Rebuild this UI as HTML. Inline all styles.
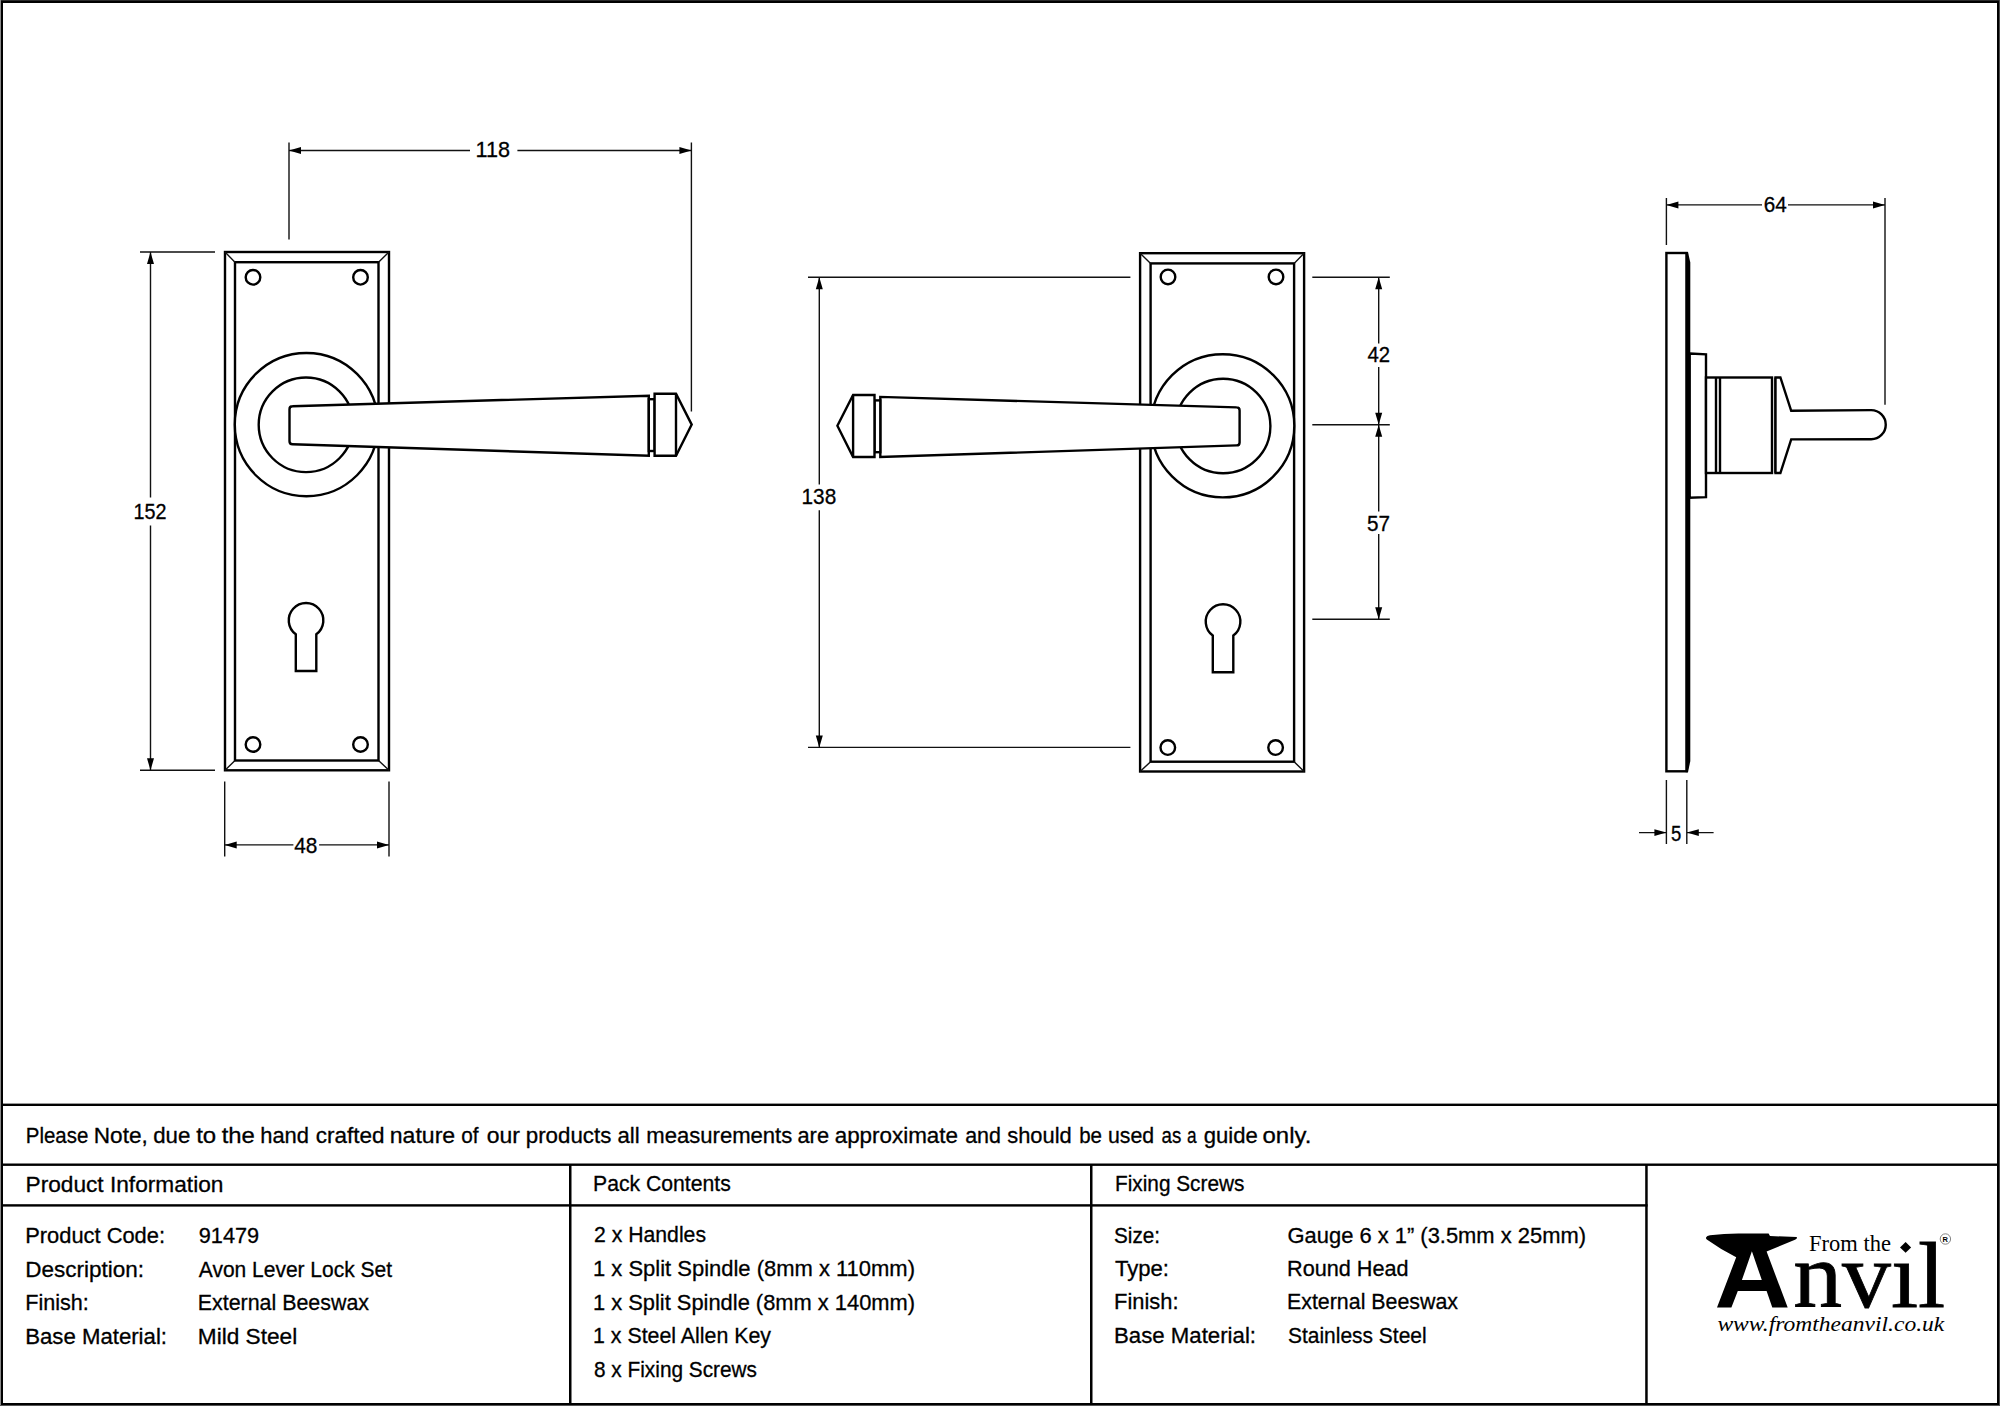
<!DOCTYPE html>
<html><head><meta charset="utf-8">
<style>
html,body{margin:0;padding:0;background:#fff;width:2000px;height:1406px;overflow:hidden}
svg{display:block}

text{font-family:"Liberation Sans",sans-serif;fill:#000}
.o{fill:#fff;stroke:#000;stroke-width:2.4;stroke-linejoin:miter}
.on{fill:none;stroke:#000;stroke-width:2.4}
.d{fill:none;stroke:#111;stroke-width:1.4}
.a{fill:#000;stroke:none}
.t{font-size:22px;stroke:#000;stroke-width:0.3px}
.n{font-size:23px;stroke:#000;stroke-width:0.3px}
</style></head>
<body>
<svg width="2000" height="1406" viewBox="0 0 2000 1406">
<defs>
<g id="plate">
  <rect class="o" x="225" y="252" width="164" height="518.3"/>
  <rect class="on" x="235" y="262.2" width="143.5" height="498.3"/>
  <path class="d" d="M225,252L235,262.2M389,252L378.5,262.2M225,770.3L235,760.5M389,770.3L378.5,760.5"/>
  <path class="on" d="M295.8,671V634.3A17.3,17.3 0 1 1 316.3,634.3V671Z"/>
  <circle class="o" cx="306.4" cy="424.6" r="71.6"/>
  <circle class="on" cx="306" cy="424.8" r="47.3"/>
  <path class="o" d="M292.5,406.2L648.8,395.7V455.8L292.5,444.2Q289.5,444.2 289.5,441.2V409.2Q289.5,406.2 292.5,406.2Z"/>
  <rect class="o" x="648.8" y="399.2" width="5.8" height="51.8"/>
  <path class="o" d="M654.6,393.8H676L691.7,424.6L676,455.8H654.6Z"/>
  <path class="on" d="M676,393.8V455.8"/>
</g>
</defs>

<!-- frame -->
<rect x="0" y="0" width="2000" height="1406" fill="#000"/>
<rect x="0" y="0" width="2000" height="1" fill="#2a2a2a"/>
<rect x="0" y="0" width="1" height="1406" fill="#8a8a8a"/>
<rect x="1999" y="0" width="1" height="1406" fill="#4a4a4a"/>
<rect x="0" y="1405" width="2000" height="1" fill="#555"/>
<rect x="3" y="3" width="1994" height="1400" fill="#fff"/>

<!-- left view -->
<use href="#plate"/>
<!-- middle view (mirrored) -->
<use href="#plate" transform="translate(1529.1,1.2) scale(-1,1)"/>
<g>
  <circle class="on" cx="253" cy="277.3" r="7.3"/>
  <circle class="on" cx="360.5" cy="277.3" r="7.3"/>
  <circle class="on" cx="253" cy="744.5" r="7.3"/>
  <circle class="on" cx="360.5" cy="744.5" r="7.3"/>
  <circle class="on" cx="1168" cy="276.9" r="7.3"/>
  <circle class="on" cx="1276" cy="276.9" r="7.3"/>
  <circle class="on" cx="1167.8" cy="747.6" r="7.3"/>
  <circle class="on" cx="1275.6" cy="747.6" r="7.3"/>
</g>

<!-- right side view -->
<g>
  <rect class="on" x="1666.4" y="253" width="20.2" height="518.3"/>
  <path class="a" d="M1685.6,252L1688,252L1690.3,262.5V761L1688,772.3H1685.6Z"/>
  <path class="o" d="M1689.7,353.5L1706,354.3V497.2L1689.7,497.8Z"/>
  <rect class="o" x="1706" y="377.5" width="66" height="95.5"/>
  <path class="on" d="M1716,377.5V473M1720,377.5V473M1775.5,377.5V473"/>
  <path class="o" d="M1775.5,377.5H1780.4L1791.2,410.8L1871.2,410.1A14.55,14.55 0 0 1 1871.2,439.2L1791.2,439.4L1780.4,473H1775.5Z"/>
</g>

<!-- dimensions -->
<g>
  <!-- 118 -->
  <path class="d" d="M289,142.6V239.5M691.4,142.6V411.4M289,150.5H470M517.4,150.5H691.4"/>
  <path class="a" d="M289,150.5l12,-3.5v7zM691.4,150.5l-12,-3.5v7z"/>
  <text class="n" x="475.5" y="157.0" style="font-size:22.30px" textLength="34.5" lengthAdjust="spacingAndGlyphs">118</text>
  <!-- 152 -->
  <path class="d" d="M140,252H215M140,770.3H215M150.5,252V497.5M150.5,525.6V770.3"/>
  <path class="a" d="M150.5,252l-3.5,12h7zM150.5,770.3l-3.5,-12h7z"/>
  <text class="n" x="133.5" y="519.0" style="font-size:22.30px" textLength="33.0" lengthAdjust="spacingAndGlyphs">152</text>
  <!-- 48 -->
  <path class="d" d="M224.7,781.6V856.6M389,781.6V856.6M224.7,844.9H293.4M319.1,844.9H389"/>
  <path class="a" d="M224.7,844.9l12,-3.5v7zM389,844.9l-12,-3.5v7z"/>
  <text class="n" x="294.2" y="853.1" style="font-size:22.30px" textLength="23.2" lengthAdjust="spacingAndGlyphs">48</text>
  <!-- 138 -->
  <path class="d" d="M808,277.2H1130.4M808,747.4H1130.4M819.3,277.2V484.6M819.3,510.2V747.4"/>
  <path class="a" d="M819.3,277.2l-3.5,12h7zM819.3,747.4l-3.5,-12h7z"/>
  <text class="n" x="801.5" y="503.9" style="font-size:22.30px" textLength="34.7" lengthAdjust="spacingAndGlyphs">138</text>
  <!-- 42 / 57 -->
  <path class="d" d="M1312.3,277.2H1389.8M1312.3,424.8H1389.8M1312.3,619.3H1389.8M1378.7,277.2V343.5M1378.7,367.1V424.8M1378.7,424.8V511.4M1378.7,534.1V619.3"/>
  <path class="a" d="M1378.7,277.2l-3.5,12h7zM1378.7,424.8l-3.5,-12h7zM1378.7,424.8l-3.5,12h7zM1378.7,619.3l-3.5,-12h7z"/>
  <text class="n" x="1367.4" y="362.3" style="font-size:22.30px" textLength="22.6" lengthAdjust="spacingAndGlyphs">42</text>
  <text class="n" x="1367.0" y="530.6" style="font-size:22.30px" textLength="23.0" lengthAdjust="spacingAndGlyphs">57</text>
  <!-- 64 -->
  <path class="d" d="M1666.4,198V245.1M1885,198V404.7M1666.4,204.9H1762M1788,204.9H1885"/>
  <path class="a" d="M1666.4,204.9l12,-3.5v7zM1885,204.9l-12,-3.5v7z"/>
  <text class="n" x="1763.8" y="211.5" style="font-size:22.30px" textLength="23.0" lengthAdjust="spacingAndGlyphs">64</text>
  <!-- 5 -->
  <path class="d" d="M1666.4,780V843.9M1686.8,780V843.9M1639,832.6H1666.4M1686.8,832.6H1713.6"/>
  <path class="a" d="M1666.4,832.6l-12,-3.3v6.6zM1686.8,832.6l12,-3.3v6.6z"/>
  <text class="n" x="1671.0" y="840.8" style="font-size:22.30px" textLength="10.3" lengthAdjust="spacingAndGlyphs">5</text>
</g>

<!-- table lines -->
<g fill="#000">
  <rect x="3" y="1103.6" width="1994" height="2.4"/>
  <rect x="3" y="1163.5" width="1994" height="2.4"/>
  <rect x="3" y="1204.2" width="1644.6" height="2.4"/>
  <rect x="569" y="1164" width="2.5" height="240"/>
  <rect x="1090" y="1164" width="2.5" height="240"/>
  <rect x="1645.2" y="1164" width="2.5" height="240"/>
</g>

<!-- table text -->
<g class="t">
  <text id="w0" x="25.8" y="1143.0" textLength="62.5" lengthAdjust="spacingAndGlyphs">Please</text>
  <text id="w1" x="93.8" y="1143.0" textLength="54.0" lengthAdjust="spacingAndGlyphs">Note,</text>
  <text id="w2" x="153.2" y="1143.0" textLength="37.2" lengthAdjust="spacingAndGlyphs">due</text>
  <text id="w3" x="196.2" y="1143.0" textLength="20.0" lengthAdjust="spacingAndGlyphs">to</text>
  <text id="w4" x="221.7" y="1143.0" textLength="33.2" lengthAdjust="spacingAndGlyphs">the</text>
  <text id="w5" x="260.2" y="1143.0" textLength="48.8" lengthAdjust="spacingAndGlyphs">hand</text>
  <text id="w6" x="315.8" y="1143.0" textLength="68.8" lengthAdjust="spacingAndGlyphs">crafted</text>
  <text id="w7" x="389.8" y="1143.0" textLength="65.4" lengthAdjust="spacingAndGlyphs">nature</text>
  <text id="w8" x="461.3" y="1143.0" textLength="17.3" lengthAdjust="spacingAndGlyphs">of</text>
  <text id="w9" x="486.7" y="1143.0" textLength="33.2" lengthAdjust="spacingAndGlyphs">our</text>
  <text id="w10" x="525.8" y="1143.0" textLength="85.5" lengthAdjust="spacingAndGlyphs">products</text>
  <text id="w11" x="617.5" y="1143.0" textLength="22.2" lengthAdjust="spacingAndGlyphs">all</text>
  <text id="w12" x="646.3" y="1143.0" textLength="146.0" lengthAdjust="spacingAndGlyphs">measurements</text>
  <text id="w13" x="797.5" y="1143.0" textLength="31.5" lengthAdjust="spacingAndGlyphs">are</text>
  <text id="w14" x="834.7" y="1143.0" textLength="123.3" lengthAdjust="spacingAndGlyphs">approximate</text>
  <text id="w15" x="965.2" y="1143.0" textLength="35.8" lengthAdjust="spacingAndGlyphs">and</text>
  <text id="w16" x="1007.2" y="1143.0" textLength="64.5" lengthAdjust="spacingAndGlyphs">should</text>
  <text id="w17" x="1079.2" y="1143.0" textLength="22.8" lengthAdjust="spacingAndGlyphs">be</text>
  <text id="w18" x="1108.0" y="1143.0" textLength="46.2" lengthAdjust="spacingAndGlyphs">used</text>
  <text id="w19" x="1161.5" y="1143.0" textLength="19.8" lengthAdjust="spacingAndGlyphs">as</text>
  <text id="w20" x="1187.0" y="1143.0" textLength="9.6" lengthAdjust="spacingAndGlyphs">a</text>
  <text id="w21" x="1203.7" y="1143.0" textLength="54.0" lengthAdjust="spacingAndGlyphs">guide</text>
  <text id="w22" x="1262.5" y="1143.0" textLength="48.8" lengthAdjust="spacingAndGlyphs">only.</text>
  <text x="25.5" y="1191.6" textLength="197.9" lengthAdjust="spacingAndGlyphs">Product Information</text>
  <text x="593.0" y="1191.0" textLength="137.8" lengthAdjust="spacingAndGlyphs">Pack Contents</text>
  <text x="1115.0" y="1191.0" textLength="129.4" lengthAdjust="spacingAndGlyphs">Fixing Screws</text>

  <text x="25.2" y="1242.6" textLength="139.8" lengthAdjust="spacingAndGlyphs">Product Code:</text>
  <text x="198.8" y="1242.6" textLength="60.4" lengthAdjust="spacingAndGlyphs">91479</text>
  <text x="25.2" y="1276.6" textLength="118.8" lengthAdjust="spacingAndGlyphs">Description:</text>
  <text x="198.8" y="1276.6" textLength="193.2" lengthAdjust="spacingAndGlyphs">Avon Lever Lock Set</text>
  <text x="25.2" y="1310.0" textLength="63.6" lengthAdjust="spacingAndGlyphs">Finish:</text>
  <text x="197.8" y="1310.0" textLength="171.2" lengthAdjust="spacingAndGlyphs">External Beeswax</text>
  <text x="25.2" y="1343.6" textLength="141.8" lengthAdjust="spacingAndGlyphs">Base Material:</text>
  <text x="197.8" y="1343.6" textLength="99.4" lengthAdjust="spacingAndGlyphs">Mild Steel</text>

  <text x="594.0" y="1241.6" textLength="112.0" lengthAdjust="spacingAndGlyphs">2 x Handles</text>
  <text x="593.0" y="1275.6" textLength="322.0" lengthAdjust="spacingAndGlyphs">1 x Split Spindle (8mm x 110mm)</text>
  <text x="593.0" y="1309.6" textLength="322.0" lengthAdjust="spacingAndGlyphs">1 x Split Spindle (8mm x 140mm)</text>
  <text x="593.0" y="1343.0" textLength="178.0" lengthAdjust="spacingAndGlyphs">1 x Steel Allen Key</text>
  <text x="594.0" y="1376.6" textLength="163.0" lengthAdjust="spacingAndGlyphs">8 x Fixing Screws</text>

  <text x="1114.0" y="1242.6" textLength="46.0" lengthAdjust="spacingAndGlyphs">Size:</text>
  <text x="1287.5" y="1242.6" textLength="298.5" lengthAdjust="spacingAndGlyphs">Gauge 6 x 1” (3.5mm x 25mm)</text>
  <text x="1115.0" y="1276.1" textLength="54.0" lengthAdjust="spacingAndGlyphs">Type:</text>
  <text x="1287.0" y="1276.1" textLength="121.6" lengthAdjust="spacingAndGlyphs">Round Head</text>
  <text x="1114.0" y="1309.4" textLength="64.5" lengthAdjust="spacingAndGlyphs">Finish:</text>
  <text x="1287.0" y="1309.4" textLength="171.0" lengthAdjust="spacingAndGlyphs">External Beeswax</text>
  <text x="1114.0" y="1342.6" textLength="142.0" lengthAdjust="spacingAndGlyphs">Base Material:</text>
  <text x="1288.0" y="1342.6" textLength="138.6" lengthAdjust="spacingAndGlyphs">Stainless Steel</text>
</g>

<!-- logo -->
<g id="logo">
  <path fill="#000" fill-rule="evenodd" d="M1706.2,1237.2Q1706.8,1235.8 1710,1235.3Q1724,1233.6 1738.4,1233.4L1768.6,1233.5L1770,1236.1L1796.5,1237Q1797.4,1237.6 1796.5,1238.8Q1795.8,1239.5 1795,1239.7L1766.6,1251.6L1787.7,1307.6H1772.3L1766.6,1290.9H1737.8L1731.4,1307.6H1717L1736.2,1257.3Q1720,1249 1706.8,1239.5Q1705.6,1238.4 1706.2,1237.2ZM1751.9,1251.2L1741.9,1280.1H1761.8Z"/>
  <text id="lg1" x="1809.0" y="1251.4" style="font-family:'Liberation Serif',serif;font-size:22.60px" textLength="81.9" lengthAdjust="spacingAndGlyphs">From the</text>
  <text id="lg2" x="1793.2" y="1306.6" style="font-family:'Liberation Serif',serif;font-size:93.00px;stroke:#000;stroke-width:0.8px" textLength="152.1" lengthAdjust="spacingAndGlyphs">nvıl</text>
  <path fill="#000" d="M1905.6,1242L1911.1,1247.4L1905.6,1252.7L1900,1247.4Z"/>
  <circle cx="1945.4" cy="1239" r="5.2" fill="none" stroke="#777" stroke-width="0.9"/>
  <text x="1942.4" y="1241.8" style="font-family:'Liberation Sans',sans-serif;font-size:7.5px;font-weight:bold" fill="#222">R</text>
  <text id="lg3" x="1717.4" y="1330.8" style="font-family:'Liberation Serif',serif;font-size:22.00px;font-style:italic" textLength="226.9" lengthAdjust="spacingAndGlyphs">www.fromtheanvil.co.uk</text>
</g>
</svg>
</body></html>
